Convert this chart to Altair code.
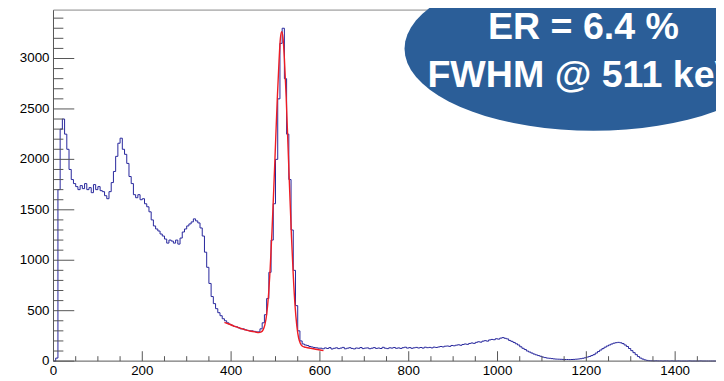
import math
import altair as alt
import pandas as pd

# ---------------- data ----------------
BIN_WIDTH = 5  # keV, bin starts 0,5,10,...
HIST_COUNTS = [
    # 0 - 95
    0, 30, 1700, 2300, 2400, 2250, 2100, 1900, 1800, 1760, 1730, 1700, 1740, 1710, 1760, 1700, 1720, 1670, 1750, 1700,
    # 100 - 195
    1730, 1690, 1680, 1640, 1610, 1680, 1770, 1880, 2030, 2160, 2210, 2100, 2050, 1960, 1830, 1760, 1650, 1620, 1650, 1600,
    # 200 - 295
    1610, 1560, 1530, 1480, 1400, 1340, 1310, 1290, 1260, 1240, 1210, 1170, 1200, 1190, 1170, 1200, 1160, 1220, 1280, 1310,
    # 300 - 395
    1340, 1360, 1380, 1410, 1390, 1370, 1320, 1240, 1080, 930, 770, 640, 570, 520, 480, 450, 420, 400, 380, 365,
    # 400 - 495
    355, 345, 340, 330, 320, 320, 310, 305, 300, 300, 295, 290, 290, 320, 380, 460, 620, 880, 1200, 1560,
    # 500 - 595
    2000, 2600, 3150, 3300, 2800, 2250, 1800, 1300, 900, 550, 300, 200, 170, 160, 155, 145, 140, 135, 132, 128,
    # 600 - 865
    128, 122, 131, 125, 134, 120, 127, 132, 124, 129,
    136, 122, 128, 133, 126, 121, 130, 127, 135, 124,
    129, 131, 123, 128, 134, 126, 130, 125, 137, 128,
    124, 132, 129, 135, 127, 131, 126, 133, 138, 129,
    134, 127, 132, 136, 130, 135, 129, 138, 133, 136,
    131, 139, 135, 140,
    # 870 - 1015
    145, 141, 148, 150, 146, 155, 152, 158, 162, 157,
    165, 170, 166, 175, 180, 176, 186, 192, 188, 198,
    203, 198, 210, 215, 212, 222, 218, 228, 233, 226,
    # 1020 - 1115
    220, 205, 196, 185, 172, 160, 142, 127, 115, 100, 90, 80, 70, 62, 55, 48, 40, 35, 30, 28,
    # 1120 - 1215
    25, 22, 20, 19, 18, 17, 16, 16, 15, 16, 17, 19, 21, 24, 28, 33, 40, 46, 55, 64,
    # 1220 - 1315
    80, 95, 110, 124, 138, 150, 160, 170, 178, 183, 186, 182, 174, 160, 145, 125, 104, 84, 64, 45,
    # 1320 - 1415
    30, 20, 12, 7, 4, 3, 2, 3, 2, 2, 1, 2, 2, 1, 2, 1, 1, 2, 1, 1,
    # 1420 - 1495
    1, 1, 2, 1, 1, 1, 1, 2, 1, 1, 1, 1, 1, 1, 1, 1,
]
HIST_E = [BIN_WIDTH * i for i in range(len(HIST_COUNTS))]

FIT_E = [385, 395, 405, 415, 425, 435, 445, 455, 462, 468, 472, 476, 480, 484, 488, 492, 496, 500,
         504, 508, 511, 514, 517, 520, 524, 528, 532, 536, 540, 544, 548, 552, 556, 560, 565, 570,
         580, 590, 600, 608]
FIT_N = [385, 368, 350, 335, 320, 307, 296, 288, 283, 290, 310, 360, 460, 640, 920, 1280, 1700, 2150,
         2600, 2980, 3200, 3265, 3200, 3000, 2620, 2150, 1680, 1230, 850, 550, 350, 230, 175, 150, 140, 135,
         127, 118, 110, 104]

X_MAJOR = [0, 200, 400, 600, 800, 1000, 1200, 1400]
X_MINOR = [v for v in range(0, 1500, 50) if v not in X_MAJOR]
Y_MAJOR = [0, 500, 1000, 1500, 2000, 2500, 3000]
Y_MINOR = [v for v in range(0, 3500, 100) if v not in Y_MAJOR]

LINE1 = "ER = 6.4 %"
LINE2 = "FWHM @ 511 keV"

# ---------------- layout / style ----------------
W, H = 670, 355
XMAX, YMAX = 1492, 3480
FONT = "Liberation Sans"
AXIS_COLOR = "#555555"

xs = alt.Scale(domain=[0, XMAX], nice=False, zero=False)
ys = alt.Scale(domain=[0, YMAX], nice=False, zero=False)

hist = pd.DataFrame({"E": HIST_E, "N": HIST_COUNTS})
fit = pd.DataFrame({"E": FIT_E, "N": FIT_N})

blue = alt.Chart(hist).mark_line(interpolate="step-after", color="#25259c", strokeWidth=1).encode(
    x=alt.X("E:Q", scale=xs, axis=None),
    y=alt.Y("N:Q", scale=ys, axis=None),
)

red = alt.Chart(fit).mark_line(color="#ee1c24", strokeWidth=1.4, interpolate="monotone").encode(
    x=alt.X("E:Q", scale=xs, axis=None),
    y=alt.Y("N:Q", scale=ys, axis=None),
)

# axis lines and frame
left_line = alt.Chart(pd.DataFrame({"d": [0]})).mark_rule(color=AXIS_COLOR, strokeWidth=1).encode(
    x=alt.value(0), y=alt.value(0), y2=alt.value(H))
bottom_line = alt.Chart(pd.DataFrame({"d": [0]})).mark_rule(color=AXIS_COLOR, strokeWidth=1).encode(
    x=alt.value(0), x2=alt.value(W), y=alt.value(H))
top_border = alt.Chart(pd.DataFrame({"d": [0]})).mark_rule(color="#888888", strokeWidth=1).encode(
    x=alt.value(0), x2=alt.value(W), y=alt.value(0))

# inward ticks
xmaj = alt.Chart(pd.DataFrame({"E": X_MAJOR})).mark_rule(color=AXIS_COLOR, strokeWidth=1).encode(
    x=alt.X("E:Q", scale=xs, axis=None), y=alt.value(H), y2=alt.value(H - 10))
xmin = alt.Chart(pd.DataFrame({"E": X_MINOR})).mark_rule(color=AXIS_COLOR, strokeWidth=1).encode(
    x=alt.X("E:Q", scale=xs, axis=None), y=alt.value(H), y2=alt.value(H - 5))
ymaj = alt.Chart(pd.DataFrame({"N": Y_MAJOR})).mark_rule(color=AXIS_COLOR, strokeWidth=1).encode(
    y=alt.Y("N:Q", scale=ys, axis=None), x=alt.value(0), x2=alt.value(21))
ymin = alt.Chart(pd.DataFrame({"N": Y_MINOR})).mark_rule(color=AXIS_COLOR, strokeWidth=1).encode(
    y=alt.Y("N:Q", scale=ys, axis=None), x=alt.value(0), x2=alt.value(10))

# tick labels
xlab = alt.Chart(pd.DataFrame({"E": X_MAJOR, "L": [str(v) for v in X_MAJOR]})).mark_text(
    font=FONT, fontSize=13.5, color="black", align="center", baseline="top"
).encode(x=alt.X("E:Q", scale=xs, axis=None), y=alt.value(H + 3), text="L:N")
ylab = alt.Chart(pd.DataFrame({"N": Y_MAJOR, "L": [str(v) for v in Y_MAJOR]})).mark_text(
    font=FONT, fontSize=13.5, color="black", align="right", baseline="middle"
).encode(y=alt.Y("N:Q", scale=ys, axis=None), x=alt.value(-4), text="L:N")

# ellipse badge (unit ellipse path, scaled by symbol size)
ELL_RATIO = 83 / 191
pts = []
for k in range(72):
    a = math.radians(k * 5)
    pts.append(f"{math.cos(a):.4f},{ELL_RATIO * math.sin(a):.4f}")
ELL_PATH = "M" + " L".join(pts) + " Z"

ellipse = alt.Chart(pd.DataFrame({"d": [0]})).mark_point(
    shape=ELL_PATH, filled=True, size=382 ** 2, color="#2b5e98", opacity=1, strokeWidth=0
).encode(x=alt.value(546), y=alt.value(39))

txt1 = alt.Chart(pd.DataFrame({"t": [LINE1]})).mark_text(
    font=FONT, fontWeight="bold", fontSize=38, color="white", align="center", baseline="alphabetic"
).encode(text="t:N", x=alt.value(536), y=alt.value(29))
txt2 = alt.Chart(pd.DataFrame({"t": [LINE2]})).mark_text(
    font=FONT, fontWeight="bold", fontSize=38, color="white", align="center", baseline="alphabetic"
).encode(text="t:N", x=alt.value(536), y=alt.value(78))

chart = alt.layer(
    blue, red, left_line, bottom_line, top_border, xmaj, xmin, ymaj, ymin, xlab, ylab,
    ellipse, txt1, txt2
).properties(
    width=W, height=H,
    autosize=alt.AutoSizeParams(type="none"),
    padding={"left": 46, "top": 0, "right": 0, "bottom": 18},
    background="white",
).configure_view(stroke=None)

chart.save("out.html", embed_options={"renderer": "svg", "actions": False})
